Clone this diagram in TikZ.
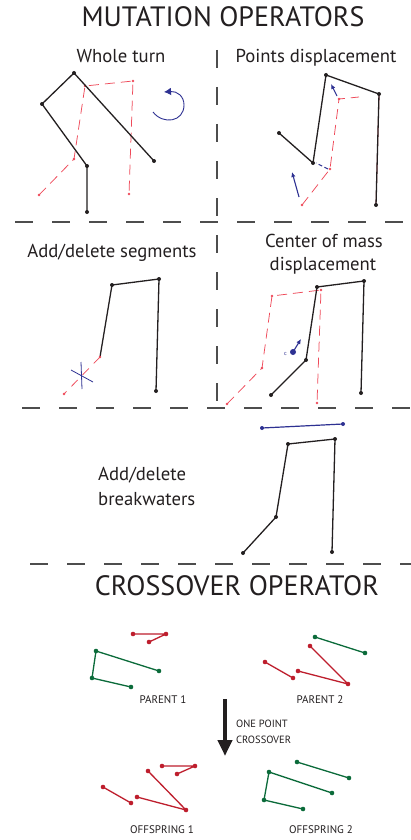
\documentclass[tikz,border=0pt]{standalone}
\usepackage{fontspec}
\setmainfont{PT Sans}
\usetikzlibrary{arrows.meta}
\definecolor{ink}{HTML}{231F20}
\definecolor{pinkred}{HTML}{EF4A5A}
\definecolor{navy}{HTML}{2E3192}
\definecolor{cred}{HTML}{BE1E2D}
\definecolor{cgreen}{HTML}{0B6B3A}
\definecolor{divgrey}{HTML}{4D4D4D}
\begin{document}
\begin{tikzpicture}[x=1pt,y=-1pt,
  divider/.style={draw=divgrey, line width=1.1pt, dash pattern=on 18pt off 19pt},
  outline/.style={draw=ink, line width=1.3pt, line join=round},
  ghost/.style={draw=pinkred, line width=0.75pt, line join=round, dash pattern=on 10pt off 6pt},
  mover/.style={draw=navy, line width=1.1pt, -{Latex[length=5pt,width=4.5pt]}},
  redline/.style={draw=cred, line width=1.3pt, line join=round},
  greenline/.style={draw=cgreen, line width=1.3pt, line join=round},
  bigtitle/.style={font=\fontsize{28}{31}\selectfont, text=ink, inner sep=0pt, anchor=base},
  subtitle/.style={font=\fontsize{18.7}{22}\selectfont, text=ink, inner sep=0pt, anchor=base},
  tag/.style={font=\fontsize{11}{13}\selectfont, text=ink, inner sep=0pt, anchor=base},
]
\useasboundingbox (0,0) rectangle (411,840);
\fill[white] (0,0) rectangle (411,840);

% ---------- titles ----------
\node[bigtitle] (mt) at (223,27) {MUTATION OPERATORS};
\node[bigtitle] (ct) at (237,595) {CROSSOVER OPERATOR};
\node[subtitle] (s1) at (121,63) {Whole turn};
\node[subtitle] (s2) at (316,63) {Points displacement};
\node[subtitle] (s3) at (112,257) {Add/delete segments};
\node[subtitle] (s4a) at (324,247) {Center of mass};
\node[subtitle] (s4b) at (323,270) {displacement};
\node[subtitle, anchor=base west] (s5a) at (98,480) {Add/delete};
\node[subtitle, anchor=base west] (s5b) at (98,505) {breakwaters};

% ---------- dividers ----------
\coordinate (hA1) at (15,222);  \coordinate (hA2) at (411,222);
\coordinate (hB1) at (22,408);  \coordinate (hB2) at (411,408);
\coordinate (hC1) at (30,564);  \coordinate (hC2) at (411,564);
\coordinate (vA1) at (217,50);  \coordinate (vA2) at (217,406);
\draw[divider] (hA1) -- (hA2);
\draw[divider] (hB1) -- (hB2);
\draw[divider] (hC1) -- (hC2);
\draw[divider] (vA1) -- (vA2);

% ---------- panel 1: whole turn ----------
\coordinate (r1) at (39,195); \coordinate (r2) at (74,159); \coordinate (r3) at (85,86);
\coordinate (r4) at (133,81); \coordinate (r5) at (129,194);
\draw[ghost] (r1) -- (r2) -- (r3) -- (r4) -- (r5);
\foreach \p in {r1,r2,r3,r4,r5} \fill[pinkred] (\p) circle (1.4);
\coordinate (a1) at (87,212); \coordinate (a2) at (87,166); \coordinate (a3) at (42,104);
\coordinate (a4) at (74,73); \coordinate (a5) at (154,161);
\draw[outline] (a1) -- (a2) -- (a3) -- (a4) -- (a5);
\foreach \p in {a1,a2,a3,a4,a5} \fill[ink] (\p) circle (2);
\coordinate (rotS) at (153,112); \coordinate (rotE) at (164,92);
\draw[navy, line width=0.9pt, -{Latex[length=7pt,width=7.5pt]}] (rotS) .. controls (163,125) and (184,122) .. (184,105) .. controls (184,96) and (177,91) .. (rotE);

% ---------- panel 2: points displacement ----------
\coordinate (t1) at (302,205); \coordinate (t2) at (330,169); \coordinate (t3) at (339,99);
\coordinate (t4) at (359,97); \coordinate (t5) at (379,96); \coordinate (t6) at (376,205);
\draw[ghost] (t1) -- (t2) -- (t3) -- (t4);
\draw[pinkred, line width=0.75pt] (t5) -- (t6);
\foreach \p in {t1,t2,t3} \fill[pinkred] (\p) circle (1.4);
\coordinate (b1) at (279,133); \coordinate (b2) at (313,163); \coordinate (b3) at (326,75);
\coordinate (b4) at (379,94); \coordinate (b5) at (376,205);
\draw[outline] (b1) -- (b2) -- (b3) -- (b4) -- (b5);
\foreach \p in {b1,b2,b3,b4,b5} \fill[ink] (\p) circle (2);
\coordinate (m1a) at (299,197); \coordinate (m1b) at (292,172);
\draw[mover] (m1a) -- (m1b);
\coordinate (m2a) at (328,169); \coordinate (m2b) at (316,163);
\draw[navy, line width=1.1pt, dash pattern=on 4pt off 2.5pt] (m2a) -- (m2b);
\coordinate (m3a) at (337,96); \coordinate (m3b) at (331,84);
\draw[mover] (m3a) -- (m3b);

% ---------- panel 3: add/delete segments ----------
\coordinate (c0) at (64,394); \coordinate (c1) at (100,357); \coordinate (c2) at (112,285);
\coordinate (c3) at (159,279); \coordinate (c4) at (156,391);
\draw[ghost, dash pattern=on 9pt off 7pt] (c1) -- (c0);
\draw[outline] (c1) -- (c2) -- (c3) -- (c4);
\foreach \p in {c2,c3,c4} \fill[ink] (\p) circle (2);
\foreach \p in {c0,c1} \fill[pinkred] (\p) circle (1.4);
\coordinate (xa1) at (81,362); \coordinate (xa2) at (82,389);
\coordinate (xb1) at (71,370); \coordinate (xb2) at (93,382);
\draw[navy, line width=0.8pt] (xa1) -- (xa2);
\draw[navy, line width=0.8pt] (xb1) -- (xb2);

% ---------- panel 4: center of mass displacement ----------
\coordinate (u1) at (227,404); \coordinate (u2) at (262,368); \coordinate (u3) at (272,296);
\coordinate (u4) at (321,290); \coordinate (u5) at (317,403);
\draw[ghost] (u1) -- (u2) -- (u3) -- (u4) -- (u5);
\foreach \p in {u1,u2,u3,u4,u5} \fill[pinkred] (\p) circle (1.4);
\coordinate (d1) at (271,395); \coordinate (d2) at (306,360); \coordinate (d3) at (317,287);
\coordinate (d4) at (364,281); \coordinate (d5) at (361,393);
\draw[outline] (d1) -- (d2) -- (d3) -- (d4) -- (d5);
\foreach \p in {d1,d2,d3,d4,d5} \fill[ink] (\p) circle (2);
\coordinate (cm) at (293,352); \coordinate (cmE) at (301,339);
\draw[mover] (cm) -- (cmE);
\fill[navy] (cm) circle (3);
\node[text=navy, font=\fontsize{6}{7}\selectfont, inner sep=0pt] (cml) at (285.5,354) {c};

% ---------- panel 5: breakwaters ----------
\coordinate (e1) at (243,553); \coordinate (e2) at (276,517); \coordinate (e3) at (288,444);
\coordinate (e4) at (335,439); \coordinate (e5) at (332,552);
\draw[outline] (e1) -- (e2) -- (e3) -- (e4) -- (e5);
\foreach \p in {e1,e2,e3,e4,e5} \fill[ink] (\p) circle (2);
\coordinate (w1) at (262,428); \coordinate (w2) at (343,424);
\draw[navy, line width=1.2pt] (w1) -- (w2);
\foreach \p in {w1,w2} \fill[navy] (\p) circle (2);

% ---------- crossover ----------
\coordinate (p1) at (133,634); \coordinate (p2) at (166,634); \coordinate (p3) at (149,642);
\draw[redline] (p1) -- (p2) -- (p3);
\coordinate (g1) at (159,671); \coordinate (g2) at (96,651); \coordinate (g3) at (92,678); \coordinate (g4) at (131,687);
\draw[greenline] (g1) -- (g2) -- (g3) -- (g4);
\coordinate (h1) at (315,637); \coordinate (h2) at (365,653);
\draw[greenline] (h1) -- (h2);
\coordinate (q1) at (265,662); \coordinate (q2) at (293,678);
\coordinate (q3) at (298,671); \coordinate (q4) at (348,684); \coordinate (q5) at (310,646);
\draw[redline] (q1) -- (q2);
\draw[redline] (q3) -- (q4) -- (q5);
\coordinate (o1) at (162,766); \coordinate (o2) at (195,766); \coordinate (o3) at (177,774);
\coordinate (o4) at (148,771); \coordinate (o5) at (186,810); \coordinate (o6) at (137,797);
\coordinate (o7) at (103,787); \coordinate (o8) at (131,803);
\draw[redline] (o1) -- (o2) -- (o3);
\draw[redline] (o4) -- (o5) -- (o6);
\draw[redline] (o7) -- (o8);
\coordinate (f1) at (297,762); \coordinate (f2) at (349,778);
\coordinate (f3) at (332,793); \coordinate (f4) at (269,772); \coordinate (f5) at (264,800); \coordinate (f6) at (303,809);
\draw[greenline] (f1) -- (f2);
\draw[greenline] (f3) -- (f4) -- (f5) -- (f6);
\foreach \p in {p1,p2,p3,q1,q2,q3,q4,q5,o1,o2,o3,o4,o5,o6,o7,o8} \fill[cred] (\p) circle (2.3);
\foreach \p in {g1,g2,g3,g4,h1,h2,f1,f2,f3,f4,f5,f6} \fill[cgreen] (\p) circle (2.3);

\node[tag] (pa1) at (163,703) {PARENT 1};
\node[tag] (pa2) at (320,703) {PARENT 2};
\node[tag] (of1) at (162,833) {OFFSPRING 1};
\node[tag] (of2) at (321,833) {OFFSPRING 2};
\coordinate (arS) at (225,699); \coordinate (arE) at (225,756);
\draw[ink, line width=4.5pt, -{Triangle[length=16pt,width=14pt]}] (arS) -- (arE);
\node[tag, anchor=base west, font=\fontsize{10.5}{12}\selectfont] (op1) at (236,727) {ONE POINT};
\node[tag, anchor=base west, font=\fontsize{10.5}{12}\selectfont] (op2) at (236,743) {CROSSOVER};
\end{tikzpicture}
\end{document}
